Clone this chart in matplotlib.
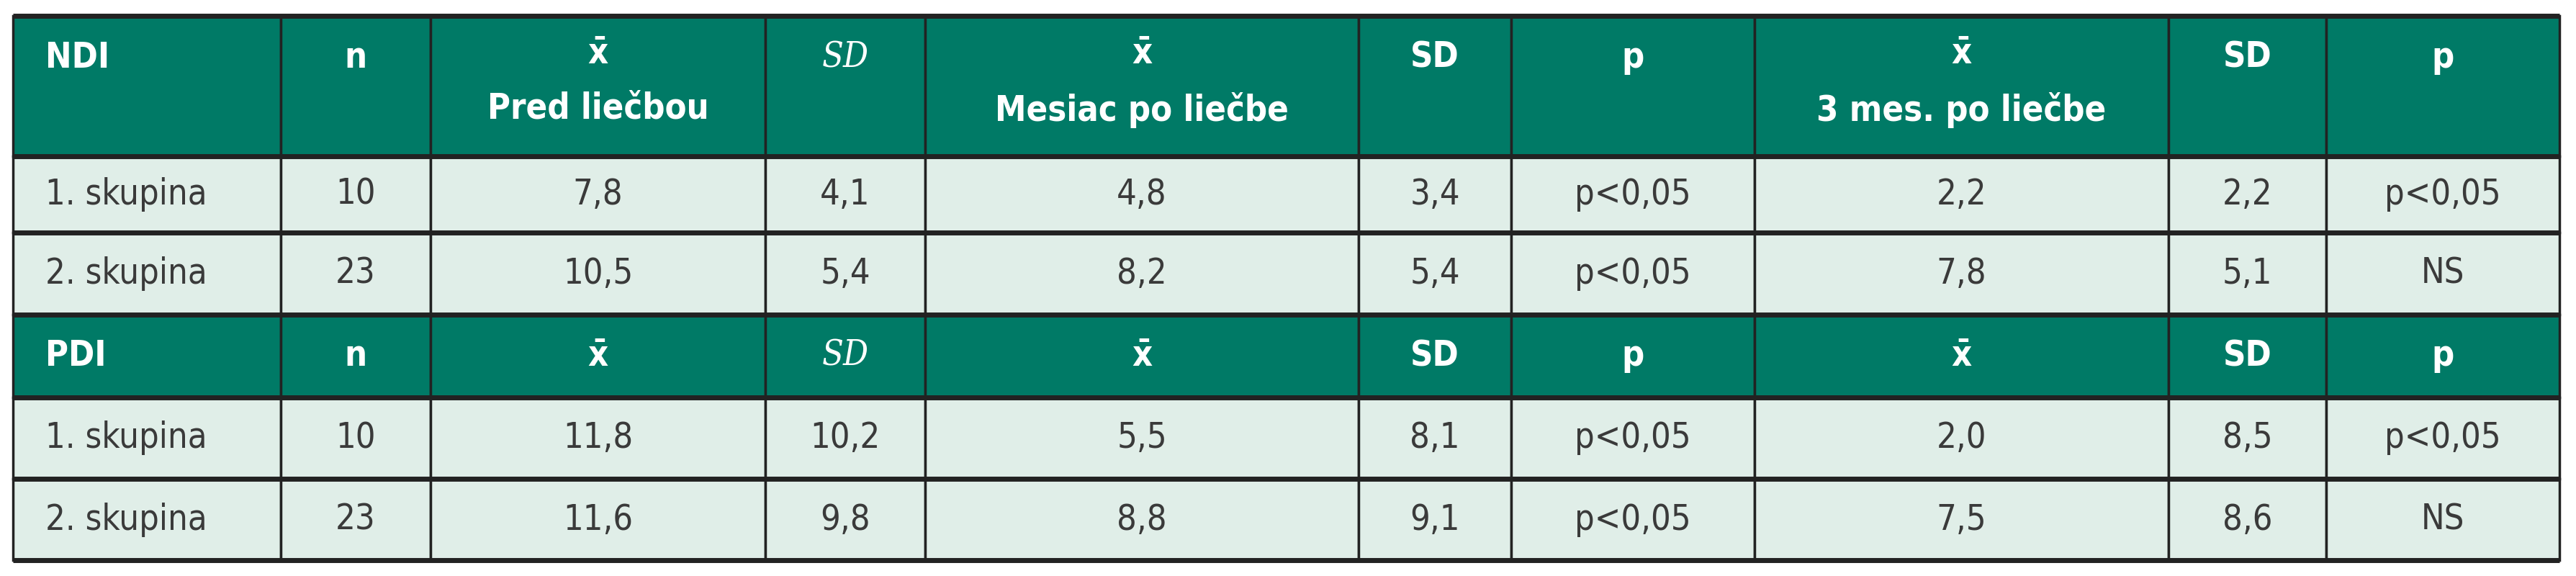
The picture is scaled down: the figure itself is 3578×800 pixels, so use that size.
import matplotlib
matplotlib.use("Agg")
import matplotlib.pyplot as plt
from matplotlib.patches import Rectangle

plt.rcParams["font.family"] = ["DejaVu Sans"]
plt.rcParams["font.stretch"] = "condensed"

XBAR = "x\u0304"
NDI_HEADER = ["NDI", "n", XBAR + "\nPred liečbou", "SD", XBAR + "\nMesiac po liečbe",
              "SD", "p", XBAR + "\n3 mes. po liečbe", "SD", "p"]
PDI_HEADER = ["PDI", "n", XBAR, "SD", XBAR, "SD", "p", XBAR, "SD", "p"]
GROUPS = ["1. skupina", "2. skupina"]
N = ["10", "23"]
NDI_PRE = ["7,8", "10,5"]
NDI_PRE_SD = ["4,1", "5,4"]
NDI_M1 = ["4,8", "8,2"]
NDI_M1_SD = ["3,4", "5,4"]
NDI_M1_P = ["p<0,05", "p<0,05"]
NDI_M3 = ["2,2", "7,8"]
NDI_M3_SD = ["2,2", "5,1"]
NDI_M3_P = ["p<0,05", "NS"]
PDI_PRE = ["11,8", "11,6"]
PDI_PRE_SD = ["10,2", "9,8"]
PDI_M1 = ["5,5", "8,8"]
PDI_M1_SD = ["8,1", "9,1"]
PDI_M1_P = ["p<0,05", "p<0,05"]
PDI_M3 = ["2,0", "7,5"]
PDI_M3_SD = ["8,5", "8,6"]
PDI_M3_P = ["p<0,05", "NS"]

COLS = [18, 390, 598, 1063, 1285, 1887, 2099, 2437, 3012, 3231, 3555]
ROWS = [22, 217, 323, 437, 552, 665, 778]
HEAD = "#007A66"
BODY = "#E0EEE8"
TXT = "#3a3a3a"
LINE = "#222222"


def body_rows(cols):
    return [list(r) for r in zip(*cols)]


ndi_rows = body_rows([GROUPS, N, NDI_PRE, NDI_PRE_SD, NDI_M1, NDI_M1_SD, NDI_M1_P,
                      NDI_M3, NDI_M3_SD, NDI_M3_P])
pdi_rows = body_rows([GROUPS, N, PDI_PRE, PDI_PRE_SD, PDI_M1, PDI_M1_SD, PDI_M1_P,
                      PDI_M3, PDI_M3_SD, PDI_M3_P])
table = [(NDI_HEADER, True)] + [(r, False) for r in ndi_rows] + \
        [(PDI_HEADER, True)] + [(r, False) for r in pdi_rows]

fig = plt.figure(figsize=(35.78, 8), dpi=100)
ax = fig.add_axes([0, 0, 1, 1])
ax.set_xlim(0, 3578)
ax.set_ylim(800, 0)
ax.axis("off")

for ri, (cells, is_head) in enumerate(table):
    y0, y1 = ROWS[ri], ROWS[ri + 1]
    for ci, val in enumerate(cells):
        x0, x1 = COLS[ci], COLS[ci + 1]
        ax.add_patch(Rectangle((x0, y0), x1 - x0, y1 - y0,
                               facecolor=HEAD if is_head else BODY,
                               edgecolor=LINE, lw=2.5))
        left = ci == 0
        tx = x0 + 45 if left else (x0 + x1) / 2
        kw = dict(ha="left" if left else "center", va="center",
                  fontsize=35, color="white" if is_head else TXT)
        if is_head:
            kw["fontweight"] = "bold"
            if ci == 3:
                kw.update(family="DejaVu Serif", fontstyle="italic", fontweight="normal")
            if "\n" in val:
                kw["linespacing"] = 1.75
                kw["va"] = "top"
                ty = y0 + 28
            elif ri == 0:
                ty = y0 + 58
            else:
                ty = (y0 + y1) / 2
        else:
            ty = (y0 + y1) / 2
        ax.text(tx, ty, val, **kw)

# thicker horizontal rules between rows
for y in ROWS:
    ax.plot([COLS[0], COLS[-1]], [y, y], color=LINE, lw=5, solid_capstyle="butt")

fig.savefig("out.png", dpi=100)
